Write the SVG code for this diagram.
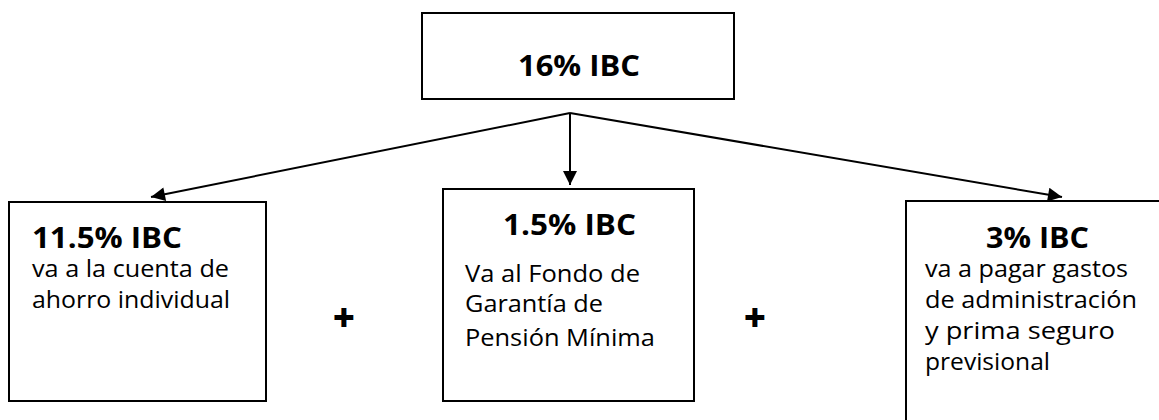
<svg xmlns="http://www.w3.org/2000/svg" width="1159" height="420" viewBox="0 0 1159 420">
<defs>
<style>
.box{fill:#fff;stroke:#000;stroke-width:2}
.h{font-family:"Open Sans","Liberation Sans",sans-serif;font-weight:bold;font-size:28px;fill:#000}
.t{font-family:"Open Sans","Liberation Sans",sans-serif;font-size:23px;fill:#000}
.p{font-family:"Open Sans","Liberation Sans",sans-serif;font-weight:800;font-size:38px;fill:#000}
.ln{stroke:#000;stroke-width:2;fill:none}
</style>
<marker id="ah" viewBox="0 0 10 10" refX="10" refY="5" markerWidth="8" markerHeight="7" markerUnits="strokeWidth" orient="auto">
<path d="M0,0 L10,5 L0,10 z" fill="#000"/>
</marker>
</defs>
<rect width="1159" height="420" fill="#fff"/>
<g id="connectors">
<line class="ln" x1="570" y1="113" x2="570" y2="185" marker-end="url(#ah)"/>
<line class="ln" x1="570" y1="113" x2="151" y2="197" marker-end="url(#ah)"/>
<line class="ln" x1="570" y1="113" x2="1062" y2="197" marker-end="url(#ah)"/>
</g>
<g id="top">
<rect class="box" x="422" y="13" width="312" height="86"/>
<text class="h" x="579" y="76" text-anchor="middle" textLength="122" lengthAdjust="spacingAndGlyphs">16% IBC</text>
</g>
<g id="left">
<rect class="box" x="9" y="202" width="257" height="199"/>
<text class="h" x="32" y="248" textLength="150" lengthAdjust="spacingAndGlyphs">11.5% IBC</text>
<text class="t" x="32" y="277" textLength="197" lengthAdjust="spacingAndGlyphs">va a la cuenta de</text>
<text class="t" x="32" y="308" textLength="198" lengthAdjust="spacingAndGlyphs">ahorro individual</text>
</g>
<g id="middle">
<rect class="box" x="443" y="189" width="251" height="212"/>
<text class="h" x="569.5" y="235" text-anchor="middle" textLength="133" lengthAdjust="spacingAndGlyphs">1.5% IBC</text>
<text class="t" x="465" y="282" textLength="175" lengthAdjust="spacingAndGlyphs">Va al Fondo de</text>
<text class="t" x="465" y="312" textLength="138" lengthAdjust="spacingAndGlyphs">Garantía de</text>
<text class="t" x="465" y="346" textLength="190" lengthAdjust="spacingAndGlyphs">Pensión Mínima</text>
</g>
<g id="right">
<rect class="box" x="906" y="201" width="300" height="260"/>
<text class="h" x="1037.5" y="248" text-anchor="middle" textLength="103" lengthAdjust="spacingAndGlyphs">3% IBC</text>
<text class="t" x="925" y="277" textLength="203" lengthAdjust="spacingAndGlyphs">va a pagar gastos</text>
<text class="t" x="925" y="308" textLength="212" lengthAdjust="spacingAndGlyphs">de administración</text>
<text class="t" x="925" y="339" textLength="190" lengthAdjust="spacingAndGlyphs">y prima seguro</text>
<text class="t" x="925" y="370" textLength="125" lengthAdjust="spacingAndGlyphs">previsional</text>
</g>
<g id="plus">
<text class="p" x="344" y="331" text-anchor="middle">+</text>
<text class="p" x="755" y="331" text-anchor="middle">+</text>
</g>
</svg>
